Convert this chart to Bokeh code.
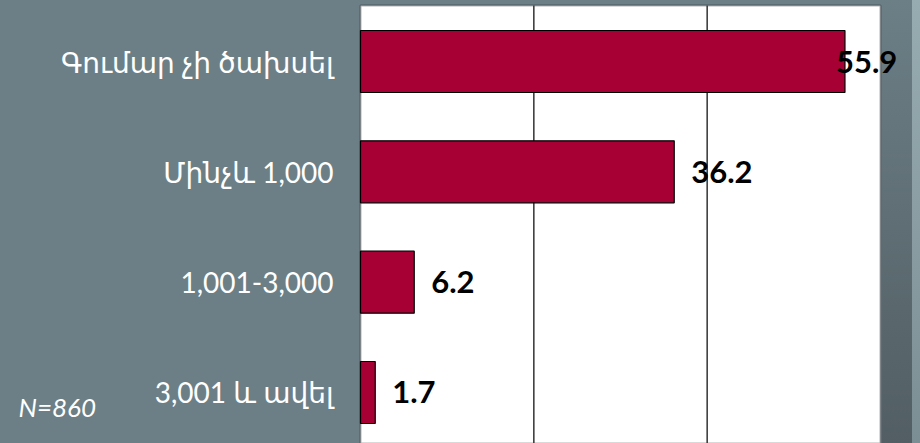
from bokeh.plotting import figure
from bokeh.models import (Range1d, Label, BoxAnnotation,
                          ColumnDataSource, GlobalInlineStyleSheet)
from bokeh.core.properties import value
from bokeh.embed import file_html
from bokeh.resources import INLINE

# ---- data ----
categories = ["Գումար չի ծախսել", "Մինչև 1,000", "1,001-3,000", "3,001 և ավել"]
values = [55.9, 36.2, 6.2, 1.7]
value_labels = ["55.9", "36.2", "6.2", "1.7"]
x_ticks = [0, 20, 40, 60]
sample_note = "N=860"

# ---- layout constants (pixels) ----
W, H = 920, 443
AREA_L, AREA_R, AREA_T = 360, 880, 5        # white plot area in the canvas
ROW_PX = 110.33                              # pixels per category row
FIRST_ROW_CENTER = 61                        # px from top

kx = (AREA_R - AREA_L) / (x_ticks[-1] - x_ticks[0])
x_start = x_ticks[0] - AREA_L / kx
x_end = x_ticks[-1] + (W - AREA_R) / kx
y_top = 0 - FIRST_ROW_CENTER / ROW_PX
y_area_top = 0 - (FIRST_ROW_CENTER - AREA_T) / ROW_PX
y_bottom = 0 + (H - FIRST_ROW_CENTER) / ROW_PX

positions = list(range(len(categories)))
offsets = [17 if v < 50 else -9 for v in values]

src = ColumnDataSource(dict(y=positions, v=values, t=value_labels, off=offsets))
cat_src = ColumnDataSource(dict(y=positions, c=categories))
inner_ticks = x_ticks[1:-1]
grid_src = ColumnDataSource(dict(x=inner_ticks,
                                 y0=[y_area_top] * len(inner_ticks),
                                 y1=[y_bottom] * len(inner_ticks)))

css = GlobalInlineStyleSheet(css="""
html, body { margin: 0; padding: 0; }
body {
  background:
    linear-gradient(to bottom, #6c7f86, #525e63) 882px 0 / 30px 443px no-repeat,
    linear-gradient(to bottom, #97acb1, #7b8e94) 912px 0 / 8px 443px no-repeat,
    #6c7f86;
}
""")

p = figure(width=W, height=H,
           x_range=Range1d(x_start, x_end),
           y_range=Range1d(y_bottom, y_top),
           x_axis_location=None, y_axis_location=None,
           output_backend="svg", toolbar_location=None,
           min_border=0, min_border_left=0, min_border_right=0,
           min_border_top=0, min_border_bottom=0,
           border_fill_color=None, background_fill_color=None,
           outline_line_color=None,
           stylesheets=[css])
p.grid.visible = False

# white plot area
area = BoxAnnotation(left=x_ticks[0], right=x_ticks[-1], top=y_area_top,
                     fill_color="white", fill_alpha=1.0,
                     line_color="black", line_width=2, level="underlay")
p.add_layout(area)

# vertical gridlines
p.segment(x0="x", x1="x", y0="y0", y1="y1", source=grid_src,
          line_color="#333333", line_width=1.5)

# bars
p.hbar(y="y", left=0, right="v", height=0.562, source=src,
       fill_color="#a60034", line_color="black", line_width=1.2)

# value labels
p.text(x="v", y="y", text="t", x_offset="off", source=src,
       text_font=value("Lato"), text_font_style="bold",
       text_font_size="31px", text_color="black",
       text_align="left", text_baseline="middle")

# category labels
p.text(x=0, y="y", text="c", x_offset=-27, source=cat_src,
       text_font=value("Lato, DejaVu Sans"), text_font_size="28px",
       text_color="white", text_align="right", text_baseline="middle")

note = Label(x=0, y=3.127, x_offset=-342, text=sample_note,
             text_font="Lato", text_font_style="italic",
             text_font_size="26px", text_color="white",
             text_baseline="middle")
p.add_layout(note)

open("out.html", "w").write(file_html(p, INLINE))
